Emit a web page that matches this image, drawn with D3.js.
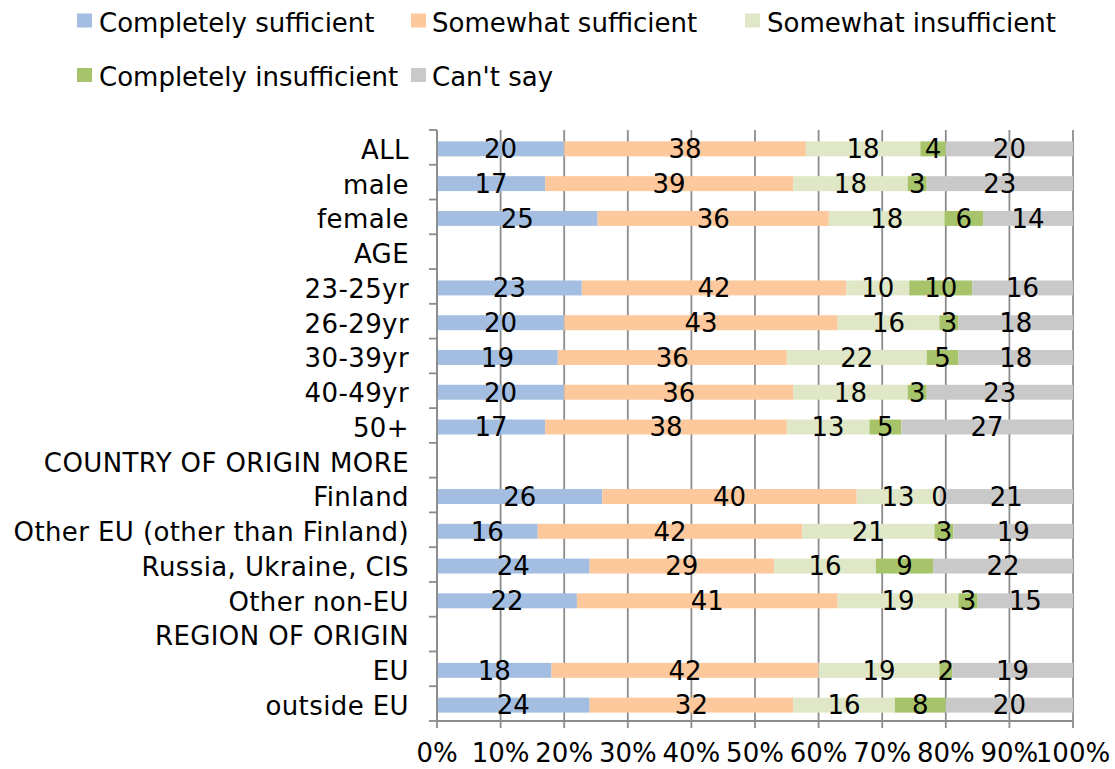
<!DOCTYPE html>
<html><head><meta charset="utf-8">
<script src="https://cdn.jsdelivr.net/npm/d3@7"></script>
<style>
html,body{margin:0;padding:0;background:#fff;}
text{font-family:"DejaVu Sans",Verdana,sans-serif;fill:#000;}
text.ylab{letter-spacing:0.4px;}
</style></head>
<body>
<svg id="chart" width="1115" height="769"></svg>
<script>
const categories = ["ALL","male","female","AGE","23-25yr","26-29yr","30-39yr","40-49yr","50+","COUNTRY OF ORIGIN MORE","Finland","Other EU (other than Finland)","Russia, Ukraine, CIS","Other non-EU","REGION OF ORIGIN","EU","outside EU"];
const seriesNames = ["Completely sufficient","Somewhat sufficient","Somewhat insufficient","Completely insufficient","Can't say"];
const completelySufficient   = [20,17,25,null,23,20,19,20,17,null,26,16,24,22,null,18,24];
const somewhatSufficient     = [38,39,36,null,42,43,36,36,38,null,40,42,29,41,null,42,32];
const somewhatInsufficient   = [18,18,18,null,10,16,22,18,13,null,13,21,16,19,null,19,16];
const completelyInsufficient = [4,3,6,null,10,3,5,3,5,null,0,3,9,3,null,2,8];
const cantSay                = [20,23,14,null,16,18,18,23,27,null,21,19,22,15,null,19,20];
const tickLabels = ["0%","10%","20%","30%","40%","50%","60%","70%","80%","90%","100%"];
const colors = ["#A3BEE0","#FCC89C","#DFE7C7","#A7C46A","#C9C9C9"];

const seriesArrays = [completelySufficient,somewhatSufficient,somewhatInsufficient,completelyInsufficient,cantSay];
const rows = categories.map((c,i)=>{
  const o = {cat:c};
  seriesNames.forEach((s,j)=>{ o[s] = seriesArrays[j][i]==null?0:seriesArrays[j][i]; });
  o.empty = seriesArrays[0][i]==null;
  return o;
});

const svg = d3.select("#chart");
const FS = 26;
const pL = 437, pR = 1073, pT = 130, pB = 721;
const off = 1.5;

const x = d3.scaleLinear().domain([0,1]).range([pL,pR]);
const y = d3.scaleBand().domain(categories).range([pT,pB]).paddingInner(0.57).paddingOuter(0.285);
const yb = d3.scaleBand().domain(categories).range([pT,pB]);

// gridlines
const gridVals = d3.range(0,11).map(d=>d/10);
svg.append("g").selectAll("line").data(gridVals).join("line")
  .attr("x1",d=>x(d)).attr("x2",d=>x(d)).attr("y1",pT).attr("y2",pB+7)
  .attr("stroke","#8c8c8c").attr("stroke-width",1.8);

// stacked bars
const stack = d3.stack().keys(seriesNames).offset(d3.stackOffsetExpand);
const stacked = stack(rows.filter(r=>!r.empty));
const g = svg.append("g");
stacked.forEach((layer,j)=>{
  g.append("g").selectAll("rect").data(layer).join("rect")
    .attr("x",d=>x(d[0])).attr("width",d=>x(d[1])-x(d[0]))
    .attr("y",d=>y(d.data.cat)+off).attr("height",y.bandwidth())
    .attr("fill",colors[j]);
});
stacked.forEach((layer,j)=>{
  g.append("g").selectAll("text").data(layer).join("text")
    .attr("x",d=>(x(d[0])+x(d[1]))/2)
    .attr("y",d=>y(d.data.cat)+y.bandwidth()/2+off)
    .attr("dy","0.36em")
    .attr("text-anchor","middle").attr("font-size",FS)
    .text(d=>d.data[seriesNames[j]]);
});

// left axis
const ax = svg.append("g");
ax.append("line").attr("x1",pL).attr("x2",pL).attr("y1",pT).attr("y2",pB).attr("stroke","#8c8c8c").attr("stroke-width",1.8);
const bounds = categories.map(c=>yb(c)).concat([pB]);
ax.selectAll("line.tk").data(bounds).join("line").attr("class","tk")
  .attr("x1",pL-8).attr("x2",pL).attr("y1",d=>d).attr("y2",d=>d)
  .attr("stroke","#8c8c8c").attr("stroke-width",1.8);
ax.selectAll("text").data(categories).join("text").attr("class","ylab")
  .attr("x",409).attr("y",d=>yb(d)+yb.bandwidth()/2+off+0.5).attr("dy","0.36em")
  .attr("text-anchor","end").attr("font-size",FS).text(d=>d);

// bottom axis
svg.append("line").attr("x1",pL).attr("x2",pR).attr("y1",pB).attr("y2",pB).attr("stroke","#8c8c8c").attr("stroke-width",1.8);
svg.append("g").selectAll("text").data(gridVals).join("text")
  .attr("x",d=>x(d)).attr("y",762).attr("text-anchor","middle").attr("font-size",FS)
  .text((d,i)=>tickLabels[i]);

// legend
const legendPos = [[77,99,31.5],[411,432,31.5],[745,767,31.5],[77,99,86],[411,432,86]];
const lg = svg.append("g");
seriesNames.forEach((s,i)=>{
  const [sx,tx,by] = legendPos[i];
  lg.append("rect").attr("x",sx).attr("y",by-18).attr("width",15).attr("height",14).attr("fill",colors[i]);
  lg.append("text").attr("x",tx).attr("y",by).attr("font-size",FS).text(s);
});
</script>
</body></html>
